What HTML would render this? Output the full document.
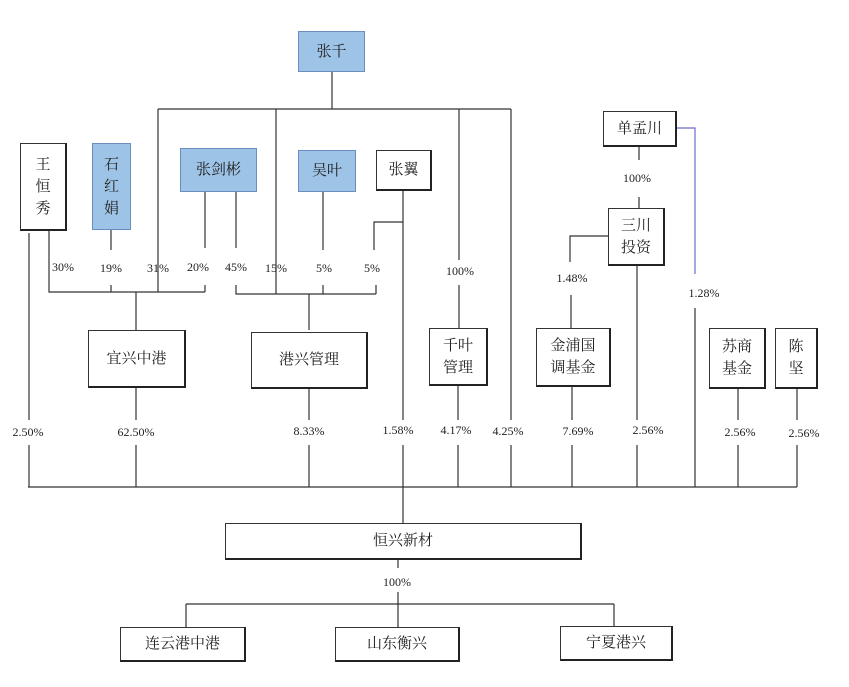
<!DOCTYPE html>
<html><head><meta charset="utf-8"><style>
body{margin:0;background:#fff;width:849px;height:687px;position:relative;overflow:hidden;font-family:"Liberation Serif","Noto Serif CJK SC","Noto Sans CJK SC",serif;}
.b{position:absolute;box-sizing:border-box;border:1px solid #333;border-right:2px solid #222;border-bottom:2px solid #222;background:#fff;display:flex;align-items:center;justify-content:center;text-align:center;font-size:15px;color:#222;line-height:22px}
.bl{background:#9dc3e6;border:1px solid #6a8fbf}
.l{position:absolute;font-size:12px;color:#222;transform:translateX(-50%);white-space:nowrap}
svg{position:absolute;left:0;top:0}
</style></head><body>
<svg width="849" height="687" stroke="#333" stroke-width="1.2" fill="none">
<path d="M332 72V109M158 109H511M158 109V285M276 109V285M459 109V260M459 285V328M511 109V420M511 445V487"/>
<path d="M49 230V292H205M111 230V250M111 285V292M158 285V292M205 192V248M205 285V292M136 292V330"/>
<path d="M236 192V248M236 285V294H376M276 285V294M323 192V250M323 285V294M376 285V294M309 294V330"/>
<path d="M403 191V420M403 222H374V250M403 445V487"/>
<path d="M29 233V420M29 445V487M28 487H797"/>
<path d="M136 388V420M136 445V487M309 389V420M309 445V487M458 386V420M458 445V487M572 387V420M572 445V487M637 266V420M637 445V487M738 389V420M738 445V487M797 389V420M797 445V487"/>
<path d="M639 147V160M639 197V208M608 236H570V262M571 295V328M695 308V487"/>
<path d="M677 128H695V274" stroke="#6a6ad0"/>
<path d="M403 487V524M398 560V568M398 592V628M186 604H614M186 604V628M614 604V628"/>
</svg>
<div class="b bl" style="left:298px;top:31px;width:67px;height:41px">张千</div>
<div class="b" style="left:20px;top:143px;width:47px;height:88px">王<br>恒<br>秀</div>
<div class="b bl" style="left:92px;top:143px;width:39px;height:87px">石<br>红<br>娟</div>
<div class="b bl" style="left:180px;top:148px;width:77px;height:44px">张剑彬</div>
<div class="b bl" style="left:298px;top:150px;width:58px;height:42px">吴叶</div>
<div class="b" style="left:376px;top:150px;width:56px;height:41px">张翼</div>
<div class="b" style="left:603px;top:111px;width:74px;height:36px">单孟川</div>
<div class="b" style="left:608px;top:208px;width:57px;height:58px">三川<br>投资</div>
<div class="b" style="left:88px;top:330px;width:98px;height:58px">宜兴中港</div>
<div class="b" style="left:251px;top:332px;width:117px;height:57px">港兴管理</div>
<div class="b" style="left:429px;top:328px;width:59px;height:58px">千叶<br>管理</div>
<div class="b" style="left:536px;top:328px;width:75px;height:59px">金浦国<br>调基金</div>
<div class="b" style="left:709px;top:328px;width:57px;height:61px">苏商<br>基金</div>
<div class="b" style="left:775px;top:328px;width:43px;height:61px">陈<br>坚</div>
<div class="b" style="left:225px;top:523px;width:357px;height:37px">恒兴新材</div>
<div class="b" style="left:120px;top:627px;width:126px;height:35px">连云港中港</div>
<div class="b" style="left:335px;top:627px;width:125px;height:35px">山东衡兴</div>
<div class="b" style="left:560px;top:626px;width:113px;height:35px">宁夏港兴</div>
<div class="l" style="left:63px;top:260px">30%</div>
<div class="l" style="left:111px;top:261px">19%</div>
<div class="l" style="left:158px;top:261px">31%</div>
<div class="l" style="left:198px;top:260px">20%</div>
<div class="l" style="left:236px;top:260px">45%</div>
<div class="l" style="left:276px;top:261px">15%</div>
<div class="l" style="left:324px;top:261px">5%</div>
<div class="l" style="left:372px;top:261px">5%</div>
<div class="l" style="left:460px;top:264px">100%</div>
<div class="l" style="left:637px;top:171px">100%</div>
<div class="l" style="left:572px;top:271px">1.48%</div>
<div class="l" style="left:704px;top:286px">1.28%</div>
<div class="l" style="left:28px;top:425px">2.50%</div>
<div class="l" style="left:136px;top:425px">62.50%</div>
<div class="l" style="left:309px;top:424px">8.33%</div>
<div class="l" style="left:398px;top:423px">1.58%</div>
<div class="l" style="left:456px;top:423px">4.17%</div>
<div class="l" style="left:508px;top:424px">4.25%</div>
<div class="l" style="left:578px;top:424px">7.69%</div>
<div class="l" style="left:648px;top:423px">2.56%</div>
<div class="l" style="left:740px;top:425px">2.56%</div>
<div class="l" style="left:804px;top:426px">2.56%</div>
<div class="l" style="left:397px;top:575px">100%</div>
</body></html>
